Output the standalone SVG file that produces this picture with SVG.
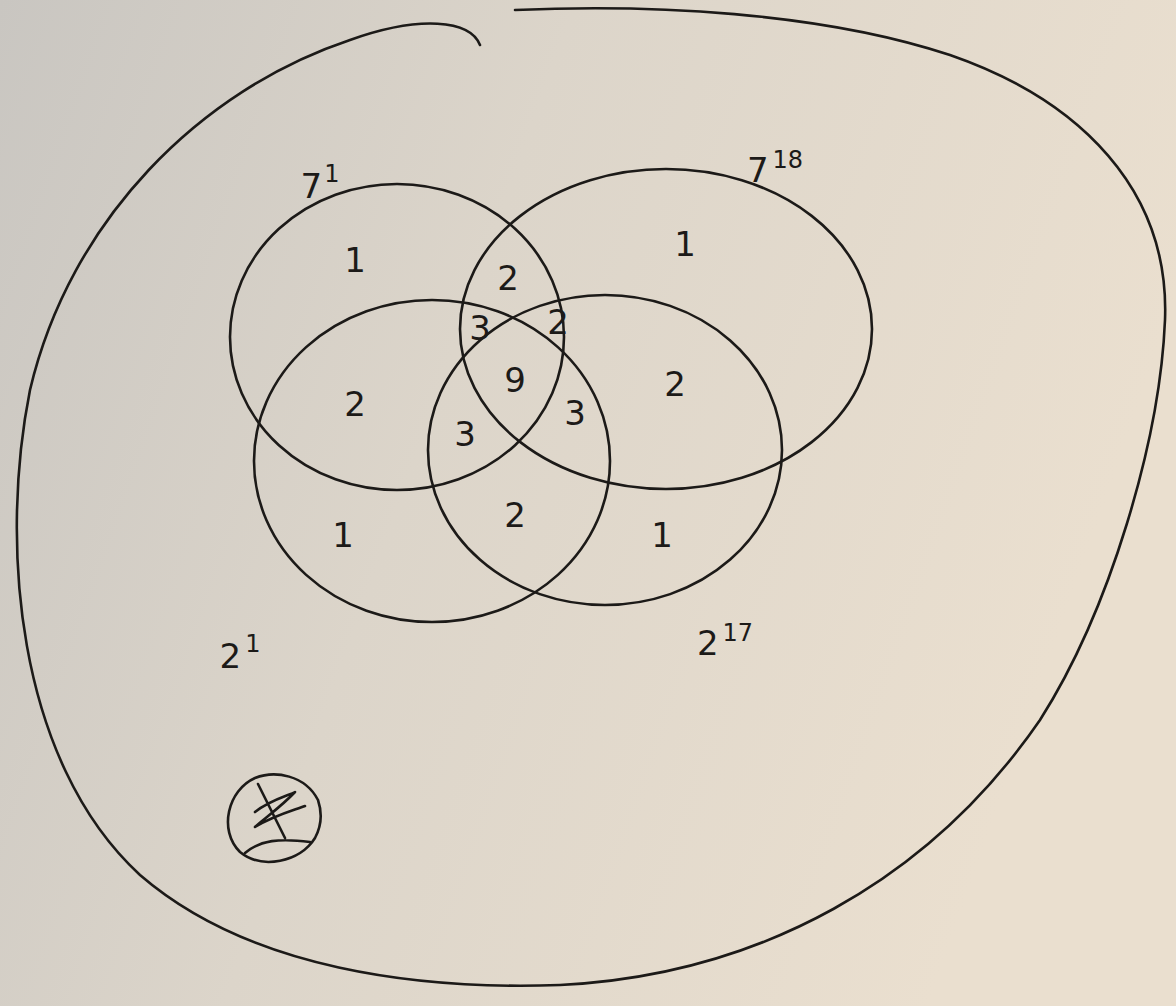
<svg xmlns="http://www.w3.org/2000/svg" width="1176" height="1006" viewBox="0 0 1176 1006">
<defs>
<linearGradient id="paper" x1="0" y1="0" x2="1" y2="0.3">
<stop offset="0" stop-color="#c9c6c1"/>
<stop offset="0.45" stop-color="#dcd5ca"/>
<stop offset="1" stop-color="#eadfcf"/>
</linearGradient>
<style>
.ln{fill:none;stroke:#1c1a18;stroke-width:2.6;stroke-linecap:round;stroke-linejoin:round}
.num{font-family:"DejaVu Sans","Liberation Sans",sans-serif;font-size:34px;fill:#1c1a18;text-anchor:middle}
.sup{font-family:"DejaVu Sans","Liberation Sans",sans-serif;font-size:24px;fill:#1c1a18}
</style>
</defs>
<rect width="1176" height="1006" fill="url(#paper)"/>
<g id="universe">
<path class="ln" d="M 480 45 C 470 20, 420 15, 350 40 C 200 90, 70 220, 30 390 C 0 540, 15 760, 140 875 C 250 970, 420 990, 560 985 C 760 975, 930 880, 1040 720 C 1110 610, 1160 440, 1165 320 C 1170 190, 1080 100, 950 55 C 820 12, 650 4, 515 10"/>
</g>
<g id="connectors">
<ellipse id="setA" class="ln" cx="397" cy="337" rx="167" ry="153"/>
<ellipse id="setB" class="ln" cx="666" cy="329" rx="206" ry="160"/>
<ellipse id="setC" class="ln" cx="432" cy="461" rx="178" ry="161"/>
<ellipse id="setD" class="ln" cx="605" cy="450" rx="177" ry="155"/>
</g>
<g id="labels">
<text class="num" x="320" y="198">7<tspan class="sup" dx="2" dy="-16">1</tspan></text>
<text class="num" x="775" y="182">7<tspan class="sup" dx="4" dy="-14">18</tspan></text>
<text class="num" x="240" y="668">2<tspan class="sup" dx="4" dy="-16">1</tspan></text>
<text class="num" x="725" y="655">2<tspan class="sup" dx="4" dy="-14">17</tspan></text>
</g>
<g id="regions">
<text class="num" x="355" y="272">1</text>
<text class="num" x="685" y="256">1</text>
<text class="num" x="355" y="416">2</text>
<text class="num" x="675" y="396">2</text>
<text class="num" x="343" y="547">1</text>
<text class="num" x="662" y="547">1</text>
<text class="num" x="508" y="290" font-size="28">2</text>
<text class="num" x="480" y="340" font-size="26">3</text>
<text class="num" x="558" y="334" font-size="26">2</text>
<text class="num" x="515" y="392" font-size="30">9</text>
<text class="num" x="465" y="446" font-size="26">3</text>
<text class="num" x="575" y="425" font-size="26">3</text>
<text class="num" x="515" y="527">2</text>
</g>
<g id="signature">
<path class="ln" d="M 318 800 C 305 775, 275 770, 255 778 C 228 790, 218 830, 240 852 C 262 870, 300 862, 315 838 C 322 825, 322 812, 318 800"/>
<path class="ln" d="M 258 784 L 285 838 M 255 812 C 270 800, 290 795, 295 792 C 280 808, 262 820, 255 827 C 275 815, 295 810, 305 806 M 245 853 C 260 840, 280 838, 310 842"/>
</g>
</svg>
